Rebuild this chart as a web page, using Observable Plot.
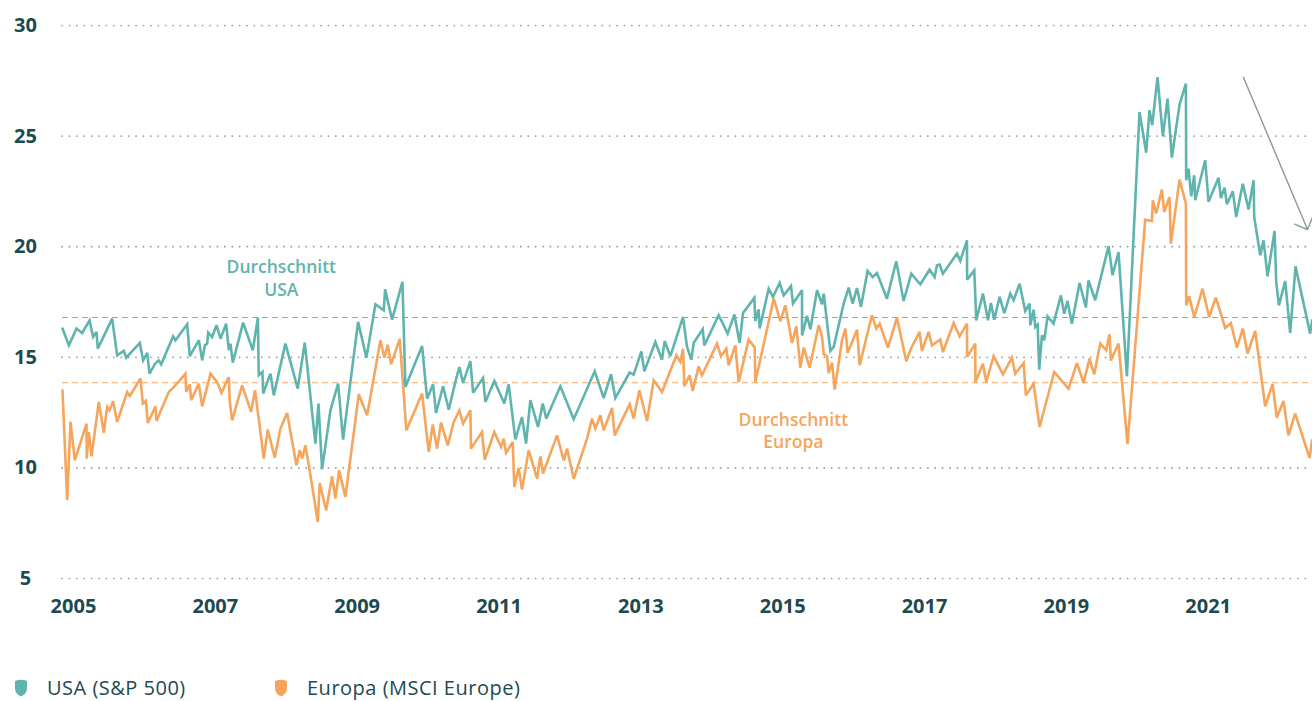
<!DOCTYPE html>
<html>
<head>
<meta charset="utf-8">
<script src="https://cdn.jsdelivr.net/npm/d3@7"></script>
<script src="https://cdn.jsdelivr.net/npm/@observablehq/plot@0.6"></script>
<style>
  html, body { margin: 0; padding: 0; background: #fff; }
  body { width: 1312px; height: 701px; overflow: hidden; font-family: "Open Sans", Lato, sans-serif; }
  #legend { position: relative; height: 61px; color: #1c4a4f; font-size: 20px; letter-spacing: 0.5px; }
  .item { position: absolute; top: 35px; display: flex; align-items: center; line-height: 26px; }
  .item svg { margin-right: 19px; }
</style>
</head>
<body>
<div id="chart"></div>
<div id="legend">
  <div class="item" style="left:14px"><svg width="14" height="18" viewBox="0 0 14 18"><path d="M1,2 Q7,-0.5 13,2 V9 Q13,15 7,17.5 Q1,15 1,9 Z" fill="#5fb4ae"/></svg><span>USA (S&amp;P 500)</span></div>
  <div class="item" style="left:274px"><svg width="14" height="18" viewBox="0 0 14 18"><path d="M1,2 Q7,-0.5 13,2 V9 Q13,15 7,17.5 Q1,15 1,9 Z" fill="#f6a55c"/></svg><span>Europa (MSCI Europe)</span></div>
</div>
<script>
// Kurs-Gewinn-Verhältnis
const usaYears = [2004.845,2004.935,2005.043,2005.122,2005.226,2005.277,2005.324,2005.343,2005.545,2005.616,2005.710,2005.743,2005.935,2005.982,2006.039,2006.072,2006.156,2006.203,2006.236,2006.405,2006.438,2006.603,2006.640,2006.767,2006.814,2006.852,2006.885,2006.899,2006.955,2007.016,2007.073,2007.152,2007.190,2007.214,2007.246,2007.392,2007.528,2007.600,2007.612,2007.664,2007.674,2007.777,2007.824,2007.988,2008.162,2008.261,2008.411,2008.454,2008.505,2008.623,2008.731,2008.801,2009.013,2009.130,2009.257,2009.375,2009.394,2009.492,2009.638,2009.680,2009.915,2009.986,2010.070,2010.112,2010.211,2010.291,2010.384,2010.441,2010.493,2010.596,2010.634,2010.775,2010.807,2010.934,2011.075,2011.136,2011.230,2011.324,2011.381,2011.442,2011.550,2011.616,2011.667,2011.865,2012.053,2012.349,2012.476,2012.579,2012.640,2012.842,2012.899,2013.007,2013.049,2013.204,2013.298,2013.336,2013.416,2013.594,2013.651,2013.712,2013.745,2013.872,2013.895,2014.097,2014.224,2014.318,2014.393,2014.440,2014.600,2014.614,2014.661,2014.675,2014.802,2014.863,2014.957,2015.014,2015.117,2015.145,2015.272,2015.273,2015.343,2015.390,2015.484,2015.554,2015.578,2015.672,2015.719,2015.860,2015.930,2015.986,2016.047,2016.103,2016.197,2016.268,2016.329,2016.470,2016.601,2016.705,2016.813,2016.940,2017.071,2017.142,2017.175,2017.212,2017.259,2017.457,2017.504,2017.598,2017.600,2017.701,2017.729,2017.823,2017.894,2017.936,2017.983,2018.058,2018.124,2018.209,2018.256,2018.340,2018.420,2018.481,2018.491,2018.538,2018.561,2018.594,2018.617,2018.655,2018.688,2018.735,2018.819,2018.922,2018.969,2019.016,2019.077,2019.186,2019.275,2019.312,2019.406,2019.594,2019.651,2019.735,2019.853,2020.031,2020.125,2020.172,2020.210,2020.285,2020.360,2020.426,2020.487,2020.595,2020.685,2020.689,2020.722,2020.760,2020.802,2020.816,2020.957,2021.004,2021.145,2021.178,2021.230,2021.263,2021.347,2021.394,2021.488,2021.568,2021.639,2021.648,2021.733,2021.780,2021.836,2021.935,2021.958,2021.996,2022.085,2022.155,2022.231,2022.437,2022.465];
const usaPE = [16.30,15.54,16.30,16.10,16.66,15.92,16.15,15.39,16.75,15.09,15.29,14.98,15.65,14.86,15.20,14.26,14.74,14.86,14.68,15.95,15.77,16.49,15.05,15.77,14.86,15.54,15.62,16.12,15.92,16.45,15.84,16.52,15.32,15.62,14.76,16.57,15.32,16.79,14.19,14.34,13.36,14.26,13.28,15.62,13.58,15.66,11.10,12.91,9.94,12.60,13.81,11.28,16.60,14.98,17.40,17.12,18.07,16.70,18.41,13.66,15.51,13.13,13.78,12.48,13.69,12.63,13.88,14.56,13.84,14.83,13.40,14.07,12.98,13.93,12.91,13.78,11.29,12.30,11.10,13.06,11.85,12.91,12.23,13.69,12.20,14.37,13.16,14.23,13.16,14.31,14.22,15.27,14.37,15.69,14.89,15.74,15.05,16.82,15.47,14.89,15.66,16.27,15.54,16.90,16.07,16.94,15.65,17.00,17.68,16.64,17.17,16.30,18.10,17.73,18.36,17.80,18.22,17.43,18.03,15.99,16.88,16.27,18.03,17.40,17.88,15.29,15.47,17.43,18.15,17.43,18.13,17.28,18.90,18.63,18.81,17.65,19.34,17.55,18.78,18.30,18.96,18.63,19.16,19.19,18.78,19.69,19.36,20.29,18.51,18.93,16.67,17.88,16.67,17.46,16.70,17.73,17.00,17.88,17.58,18.33,17.09,17.43,16.45,17.15,16.37,16.48,14.44,15.99,15.77,16.85,16.52,17.80,16.97,17.55,16.52,18.36,17.25,18.48,17.58,20.02,18.71,19.76,14.14,26.09,24.25,26.17,25.49,27.67,24.99,26.69,24.03,26.42,27.37,23.00,23.53,22.28,23.23,22.10,23.91,22.03,23.12,22.20,22.67,21.92,22.50,21.34,22.85,21.68,23.00,21.34,19.61,20.29,18.66,20.71,18.41,17.35,18.45,16.10,19.11,16.07,16.67];

const eurYears = [2004.845,2004.911,2004.958,2005.019,2005.184,2005.186,2005.216,2005.254,2005.357,2005.428,2005.475,2005.508,2005.559,2005.616,2005.757,2005.794,2005.945,2005.978,2006.020,2006.048,2006.156,2006.170,2006.344,2006.415,2006.499,2006.579,2006.589,2006.640,2006.659,2006.767,2006.814,2006.932,2007.026,2007.087,2007.190,2007.204,2007.237,2007.378,2007.505,2007.560,2007.683,2007.739,2007.838,2007.918,2008.012,2008.143,2008.190,2008.223,2008.270,2008.341,2008.444,2008.472,2008.562,2008.646,2008.693,2008.745,2008.834,2009.022,2009.140,2009.328,2009.384,2009.431,2009.478,2009.600,2009.694,2009.915,2010.009,2010.066,2010.126,2010.183,2010.277,2010.362,2010.441,2010.493,2010.596,2010.605,2010.760,2010.798,2010.934,2011.028,2011.066,2011.099,2011.193,2011.216,2011.277,2011.324,2011.418,2011.536,2011.583,2011.620,2011.818,2011.912,2011.959,2012.053,2012.241,2012.311,2012.358,2012.429,2012.476,2012.593,2012.631,2012.842,2012.899,2012.979,2013.087,2013.181,2013.298,2013.501,2013.557,2013.595,2013.613,2013.688,2013.731,2013.815,2013.862,2014.074,2014.130,2014.205,2014.238,2014.332,2014.379,2014.520,2014.605,2014.614,2014.873,2014.967,2015.037,2015.131,2015.192,2015.249,2015.296,2015.380,2015.507,2015.554,2015.578,2015.625,2015.648,2015.695,2015.733,2015.836,2015.883,2015.916,2016.048,2016.085,2016.258,2016.320,2016.367,2016.484,2016.611,2016.742,2016.808,2016.930,2016.963,2017.057,2017.104,2017.222,2017.259,2017.410,2017.494,2017.598,2017.600,2017.715,2017.717,2017.823,2017.870,2017.974,2018.105,2018.232,2018.279,2018.397,2018.429,2018.538,2018.622,2018.828,2019.030,2019.148,2019.242,2019.326,2019.392,2019.477,2019.561,2019.608,2019.627,2019.735,2019.862,2020.111,2020.205,2020.219,2020.266,2020.346,2020.379,2020.454,2020.473,2020.595,2020.685,2020.689,2020.731,2020.802,2020.920,2021.013,2021.107,2021.239,2021.319,2021.404,2021.488,2021.554,2021.662,2021.803,2021.907,2021.967,2022.061,2022.132,2022.226,2022.428,2022.465];
const eurPE = [13.51,8.54,12.08,10.34,12.00,10.42,11.62,10.52,12.98,11.59,12.75,12.60,13.01,12.08,13.43,13.25,14.04,12.91,13.03,12.03,12.78,12.12,13.43,13.66,13.96,14.26,13.43,13.78,13.06,13.81,12.78,14.26,13.88,13.39,14.11,12.98,12.15,13.73,12.53,13.51,10.42,11.73,10.46,11.78,12.48,10.12,10.80,10.42,11.02,9.67,7.56,9.32,8.08,9.62,8.61,9.89,8.69,13.33,12.38,15.77,14.98,15.57,14.68,15.83,11.70,13.36,10.72,11.96,10.87,12.05,11.02,12.08,12.60,12.00,12.60,10.87,11.62,10.37,11.62,10.95,11.32,10.68,11.17,9.14,10.00,9.02,10.80,9.51,10.52,9.74,11.47,10.34,10.87,9.51,11.32,12.23,11.78,12.38,11.70,12.71,11.47,12.88,12.23,13.51,12.12,13.96,13.43,15.09,14.79,15.39,13.69,14.19,13.48,14.59,14.19,15.62,15.05,15.39,14.64,15.54,13.88,15.80,15.44,13.88,17.65,16.64,17.35,15.65,16.40,14.53,15.44,14.53,16.45,15.95,15.14,15.05,14.29,14.76,13.54,15.77,16.30,15.20,16.25,14.64,16.90,16.30,16.52,15.44,16.79,14.82,15.39,16.15,15.29,16.15,15.54,15.81,15.24,16.55,15.95,16.52,15.02,15.62,13.88,14.71,13.88,15.06,14.23,14.98,14.26,14.74,13.28,13.81,11.85,14.34,13.58,14.74,13.84,14.94,14.23,15.62,15.32,16.04,14.86,15.62,11.07,21.22,21.16,22.10,21.50,22.58,21.57,22.25,20.14,23.03,21.95,17.35,17.76,16.82,18.10,16.82,17.70,16.33,16.55,15.44,16.30,15.17,16.19,12.78,13.78,12.27,13.03,11.47,12.45,10.46,11.25];

const avgUSA = 16.8;
const avgEuropa = 13.85;
const yTicks = [5, 10, 15, 20, 25, 30];
const xTicks = [2005, 2007, 2009, 2011, 2013, 2015, 2017, 2019, 2021];
const avgLabelLines = ["Durchschnitt", "USA", "Durchschnitt", "Europa"];
const avgLabelSeries = ["USA", "USA", "Europa", "Europa"];
const avgLabelX = [2007.93, 2007.93, 2015.15, 2015.15];
const avgLabelY = [19.07, 18.04, 12.14, 11.15];
// annotation arrow (start/end in data units)
const arrowX = [2021.497, 2022.40];
const arrowY = [27.65, 20.78];

const teal = "#5fb4ae", orange = "#f6a55c", ink = "#1c4a4f";

const usa = usaYears.map((t, i) => ({t, v: usaPE[i]}));
const eur = eurYears.map((t, i) => ({t, v: eurPE[i]}));
const labels = avgLabelLines.map((s, i) => ({s, x: avgLabelX[i], y: avgLabelY[i], c: avgLabelSeries[i] === "USA" ? teal : orange}));

const chart = Plot.plot({
  width: 1312,
  height: 640,
  marginTop: 25,
  marginBottom: 62,
  marginLeft: 62,
  marginRight: 0,
  style: {fontFamily: "'Open Sans', Lato, sans-serif", background: "#fff", overflow: "hidden"},
  x: {domain: [2004.845, 2022.47]},
  y: {domain: [5, 30]},
  marks: [
    Plot.gridY(yTicks, {stroke: "#8a9c9c", strokeOpacity: 1, strokeWidth: 1.7, strokeDasharray: "0.1,7.3", strokeLinecap: "round"}),
    Plot.ruleY([avgUSA], {stroke: "#6cb8b2", strokeWidth: 1.2, strokeDasharray: "6,4"}),
    Plot.ruleY([avgEuropa], {stroke: orange, strokeWidth: 1.2, strokeDasharray: "6,4"}),
    Plot.line(eur, {x: "t", y: "v", stroke: orange, strokeWidth: 2.6, strokeLinejoin: "miter", strokeMiterlimit: 3}),
    Plot.line(usa, {x: "t", y: "v", stroke: teal, strokeWidth: 2.6, strokeLinejoin: "miter", strokeMiterlimit: 3}),
    Plot.text(labels, {x: "x", y: "y", text: "s", fill: "c", fontSize: 17.5, fontWeight: 600, textAnchor: "middle", lineAnchor: "middle"}),
    Plot.arrow([0], {x1: () => arrowX[0], y1: () => arrowY[0], x2: () => arrowX[1], y2: () => arrowY[1], stroke: "#8e9c9c", strokeWidth: 1.5, headLength: 14, headAngle: 90}),
    Plot.axisY(yTicks, {tickSize: 0, tickPadding: 0, dx: -37, textAnchor: "middle", fill: ink, fontSize: 20, fontWeight: 700, label: null}),
    Plot.axisX(xTicks, {tickSize: 0, tickPadding: 20, tickFormat: d => String(d), fill: ink, fontSize: 20, fontWeight: 700, label: null})
  ]
});
document.getElementById("chart").appendChild(chart);
</script>
</body>
</html>
